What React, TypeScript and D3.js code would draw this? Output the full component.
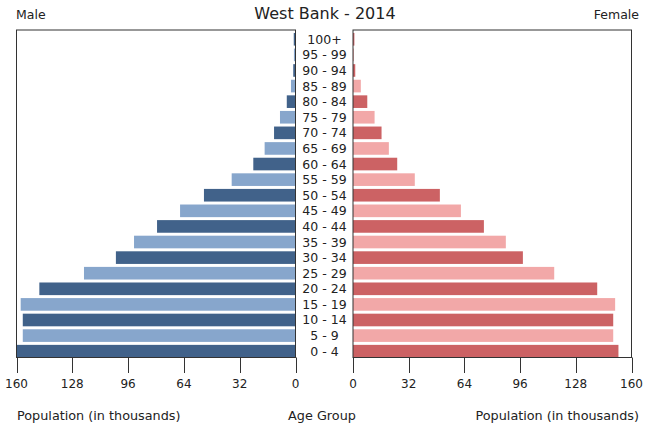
import React from "react";
import * as d3 from "d3";

const ageGroups = ["0 - 4","5 - 9","10 - 14","15 - 19","20 - 24","25 - 29","30 - 34","35 - 39","40 - 44","45 - 49","50 - 54","55 - 59","60 - 64","65 - 69","70 - 74","75 - 79","80 - 84","85 - 89","90 - 94","95 - 99","100+"];
const male = [160, 156.4, 156.4, 157.6, 146.9, 121.3, 103, 92.6, 79.4, 66.2, 52.5, 36.6, 24.2, 17.7, 12.3, 8.9, 5.0, 2.6, 1.3, 0.9, 1.0];
const female = [152.5, 149.5, 149.5, 150.6, 140.3, 115.6, 97.6, 87.8, 75.2, 62, 49.9, 35.5, 25.4, 20.6, 16.4, 12.4, 8.2, 4.5, 1.3, 0.5, 0.8];
const ticks = [0, 32, 64, 96, 128, 160];

const W = 652, H = 427;
const FONT = "DejaVu Sans, sans-serif";
const TEXT = "#222";

export default function App() {
  const top = 30, bottom = 357.5;
  const y = d3.scaleBand<string>().domain([...ageGroups].reverse()).range([top, bottom]).paddingInner(0).paddingOuter(0);
  const step = y.step();
  const gap = step * 0.19;
  const xL = d3.scaleLinear().domain([0, 160]).range([295.5, 16.5]);
  const xR = d3.scaleLinear().domain([0, 160]).range([353, 631.5]);
  const maleColors = ["#41628a", "#87a6cc"];
  const femaleColors = ["#cc6264", "#f2a8a8"];

  return (
    <svg width={W} height={H} style={{ position: "absolute", left: 0, top: 0, background: "#fff" }} fontFamily={FONT}>
      <rect x={0} y={0} width={W} height={H} fill="#fff" />
      {ageGroups.map((g, i) => {
        const by = (y(g) as number) + gap;
        const bh = step - gap;
        return (
          <g key={g}>
            <rect x={xL(male[i])} y={by} width={xL(0) - xL(male[i])} height={bh} fill={maleColors[i % 2]} />
            <rect x={xR(0)} y={by} width={xR(female[i]) - xR(0)} height={bh} fill={femaleColors[i % 2]} />
            <text x={324.5} y={by + bh / 2} dy="0.36em" textAnchor="middle" fontSize={12.5} fill={TEXT}>{g}</text>
          </g>
        );
      })}
      <rect x={xL(160)} y={top} width={xL(0) - xL(160)} height={bottom - top} fill="none" stroke="#333" strokeWidth={1} />
      <rect x={xR(0)} y={top} width={xR(160) - xR(0)} height={bottom - top} fill="none" stroke="#333" strokeWidth={1} />
      {ticks.map((t) => (
        <g key={"l" + t}>
          <line x1={Math.round(xL(t)) + 0.5} x2={Math.round(xL(t)) + 0.5} y1={bottom} y2={373} stroke="#333" />
          <text x={xL(t)} y={388} textAnchor="middle" fontSize={12} fill={TEXT}>{t}</text>
        </g>
      ))}
      {ticks.map((t) => (
        <g key={"r" + t}>
          <line x1={Math.round(xR(t)) + 0.5} x2={Math.round(xR(t)) + 0.5} y1={bottom} y2={373} stroke="#333" />
          <text x={xR(t)} y={388} textAnchor="middle" fontSize={12} fill={TEXT}>{t}</text>
        </g>
      ))}
      <text x={325} y={18.5} textAnchor="middle" fontSize={16} fill={TEXT}>West Bank - 2014</text>
      <text x={16} y={18.5} fontSize={12.5} fill={TEXT}>Male</text>
      <text x={639} y={18.5} textAnchor="end" fontSize={12.5} fill={TEXT}>Female</text>
      <text x={17} y={420} fontSize={12.8} fill={TEXT}>Population (in thousands)</text>
      <text x={322} y={420} textAnchor="middle" fontSize={12.8} fill={TEXT}>Age Group</text>
      <text x={639} y={420} textAnchor="end" fontSize={12.8} fill={TEXT}>Population (in thousands)</text>
    </svg>
  );
}
